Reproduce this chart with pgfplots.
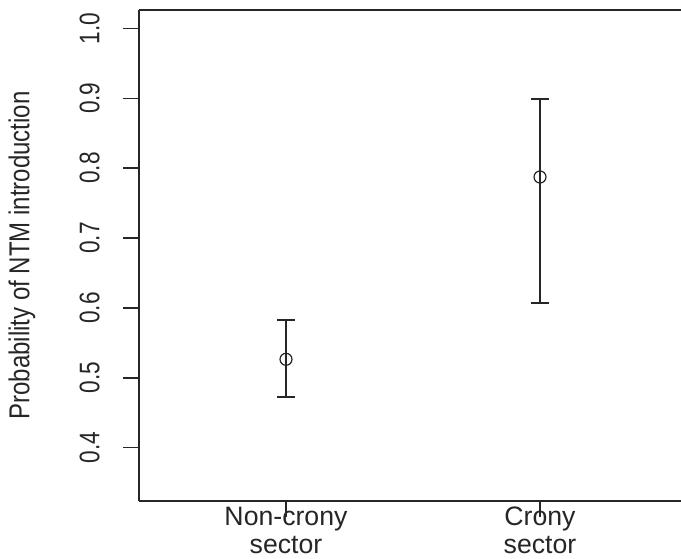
\documentclass[border=0pt]{standalone}
\usepackage{fontspec}
\setmainfont{Liberation Sans}
\usepackage{pgfplots}
\pgfplotsset{compat=1.18}
\definecolor{ink}{HTML}{262626}
\begin{document}
\begin{tikzpicture}
\begin{axis}[
  name=ax,
  scale only axis,
  width=406.5pt, height=368.25pt,
  xmin=0.4213, xmax=2.555,
  ymin=0.3238, ymax=1.0262,
  axis x line*=bottom, axis y line*=left,
  axis line style={ink, line width=1pt, -},
  xtick={1,2},
  xticklabels={Non-crony\\sector, Crony\\sector},
  xticklabel style={align=center, anchor=north, inner sep=0pt,
    font=\fontsize{20}{21}\selectfont, text=ink, yshift=7.5pt},
  ytick={0.4,0.5,...,1.0},
  yticklabel style={xshift=-17.25pt, xscale=1.25, rotate=90, anchor=south, inner sep=0pt,
    font=\fontsize{17}{19}\selectfont, text=ink},
  /pgf/number format/assume math mode=true,
  /pgf/number format/fixed, /pgf/number format/fixed zerofill, /pgf/number format/precision=1,
  tick align=outside, major tick length=12pt,
  tick style={ink, line width=1pt},
  ylabel={Probability of NTM introduction},
  every axis y label/.style={at={(rel axis cs:0,0.5)}, xshift=-87.75pt, xscale=1.2, rotate=90,
    anchor=center, inner sep=0pt,
    font=\fontsize{18}{20}\selectfont, text=ink},
  clip=false,
]
\draw[ink, line width=1pt] (rel axis cs:0,1) -- (rel axis cs:1,1);
\addplot[ink, only marks, mark=o, mark size=4.5pt, mark options={line width=0.9pt},
  error bars/.cd, y dir=both, y explicit,
  error bar style={line width=1.4pt, ink},
  error mark options={rotate=90, mark size=6.75pt, line width=1.4pt, ink}]
coordinates {
  (1,0.5265) += (0,0.0562) -= (0,0.0535)
  (2,0.7873) += (0,0.1116) -= (0,0.1807)
};
\end{axis}
\pgfresetboundingbox
\path[use as bounding box] (ax.south west) ++(-104.25pt,-42.75pt)
  rectangle ([yshift=7.5pt]ax.north east);
\end{tikzpicture}
\end{document}
